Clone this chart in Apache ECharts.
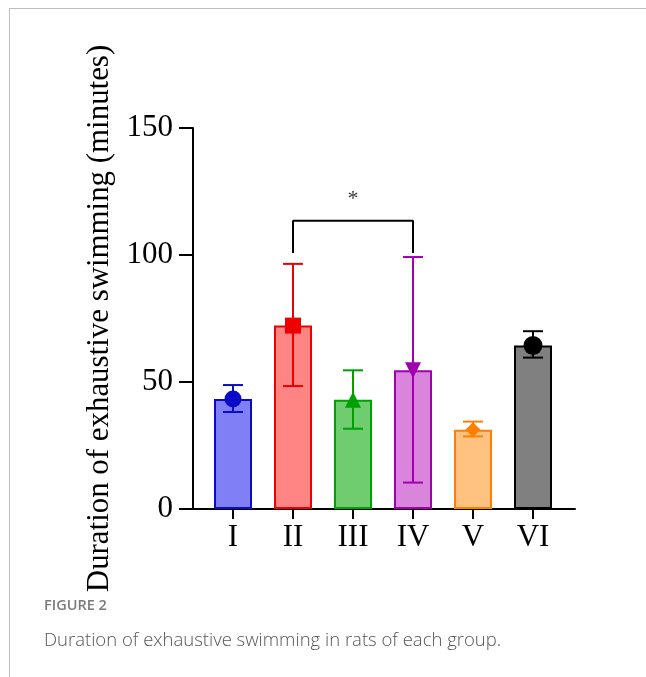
<!DOCTYPE html>
<html><head><meta charset="utf-8">
<script src="https://cdn.jsdelivr.net/npm/echarts@6/dist/echarts.min.js"></script>
<style>
html,body{margin:0;padding:0;background:#fff;}
#frame{position:absolute;left:9px;top:8px;width:640px;height:680px;border-left:1px solid #bdbdbd;border-top:1px solid #bdbdbd;}
#chart{position:absolute;left:0;top:0;width:646px;height:677px;}
#fig{position:absolute;left:44px;top:595px;font-family:"Open Sans",sans-serif;font-size:14.5px;font-weight:600;color:#7a7a7a;}
#cap{position:absolute;left:44px;top:626px;font-family:"Open Sans",sans-serif;font-size:18.5px;font-weight:300;color:#555;}
</style></head>
<body>
<div id="frame"></div>
<div id="chart"></div>
<div id="fig">FIGURE 2</div>
<div id="cap">Duration of exhaustive swimming in rats of each group.</div>
<script>
const categories = ["I","II","III","IV","V","VI"];
const means = [43.3, 72.2, 43.0, 54.6, 31.2, 64.4];
const upper = [48.8, 96.5, 54.6, 99.2, 34.4, 70.0];
const lower = [38.2, 48.4, 31.6, 10.4, 28.6, 59.6];
const fillColors = ["#8080f4", "#ff8484", "#6fcc6f", "#d985dc", "#ffc280", "#808080"];
const edgeColors = ["#0a0ac8", "#ee0000", "#00a000", "#a000b0", "#ff8000", "#000000"];
const symbols = ["circle", "rect", "triangle", "path://M0,0 L10,0 L5,10 Z", "diamond", "circle"];
const symbolSizes = [17, 16, 16, 16, 15, 19];
const bracket = [[1, 100.8], [1, 113.5], [3, 113.5], [3, 100.8]];
const starPos = [2, 122];
const yTicks = [0, 50, 100, 150];

const chart = echarts.init(document.getElementById('chart'));
const idx = categories.map((c, i) => i);
const serif = '"Liberation Serif", "DejaVu Serif", serif';
chart.setOption({
  animation: false,
  grid: {left: 193, top: 128, width: 382, height: 381},
  xAxis: {
    type: 'value', min: -0.667, max: 5.7,
    axisLine: {onZero: false, lineStyle: {color: '#000', width: 2}},
    axisTick: {customValues: idx, length: 10, lineStyle: {color: '#000', width: 2}},
    axisLabel: {customValues: idx, formatter: v => categories[Math.round(v)], fontFamily: serif, fontSize: 31, color: '#000', margin: 13},
    splitLine: {show: false}
  },
  yAxis: {
    type: 'value', min: 0, max: 150, interval: 50,
    axisLine: {show: true, onZero: false, lineStyle: {color: '#000', width: 2}},
    axisTick: {show: true, length: 14, lineStyle: {color: '#000', width: 2}},
    axisLabel: {fontFamily: serif, fontSize: 31, color: '#000', margin: 20},
    splitLine: {show: false},
    name: 'Duration of exhaustive swimming (minutes)',
    nameLocation: 'middle', nameGap: 78, nameRotate: 90,
    nameTextStyle: {fontFamily: serif, fontSize: 30.9, color: '#000'}
  },
  series: [
    {
      type: 'bar', barWidth: 38,
      data: means.map((m, i) => ({value: [i, m], itemStyle: {color: fillColors[i], borderColor: edgeColors[i], borderWidth: 2}}))
    },
    {
      type: 'custom',
      data: means.map((m, i) => [i, lower[i], upper[i]]),
      renderItem: function (params, api) {
        const i = api.value(0);
        const lo = api.coord([i, api.value(1)]);
        const hi = api.coord([i, api.value(2)]);
        const hw = 10;
        const style = {stroke: edgeColors[params.dataIndex], lineWidth: 2};
        return {type: 'group', children: [
          {type: 'line', shape: {x1: lo[0], y1: lo[1], x2: hi[0], y2: hi[1]}, style: style},
          {type: 'line', shape: {x1: hi[0]-hw, y1: hi[1], x2: hi[0]+hw, y2: hi[1]}, style: style},
          {type: 'line', shape: {x1: lo[0]-hw, y1: lo[1], x2: lo[0]+hw, y2: lo[1]}, style: style}
        ]};
      },
      z: 3
    },
    {
      type: 'scatter',
      data: means.map((m, i) => ({value: [i, m], symbol: symbols[i], symbolSize: symbolSizes[i], itemStyle: {color: edgeColors[i], opacity: 1}})),
      z: 4
    },
    {
      type: 'line', data: bracket, symbol: 'none',
      lineStyle: {color: '#000', width: 2}, z: 5
    },
    {
      type: 'scatter', data: [starPos], symbolSize: 0,
      label: {show: true, formatter: '*', position: 'inside', fontFamily: serif, fontSize: 22, color: '#000'}
    }
  ]
});
</script>
</body></html>
